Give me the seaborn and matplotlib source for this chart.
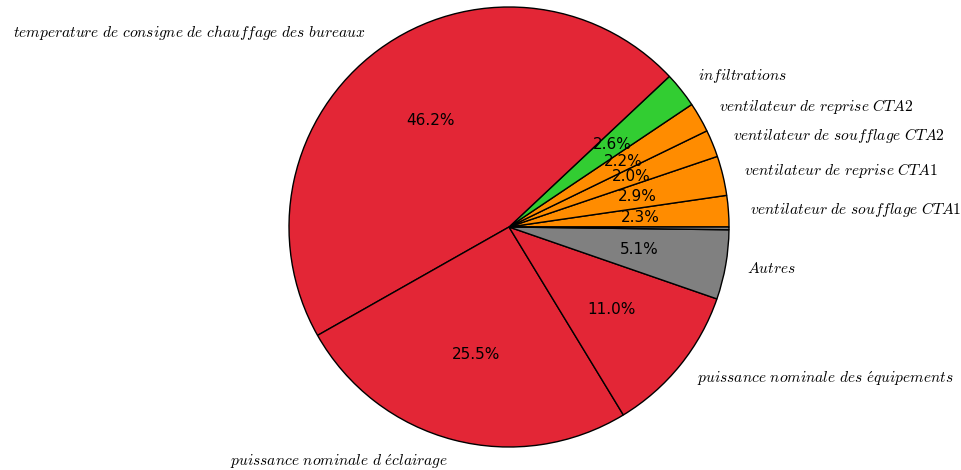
import matplotlib
matplotlib.use("Agg")
import matplotlib.pyplot as plt
import seaborn as sns

sns.set_style("white")
plt.rcParams["mathtext.fontset"] = "cm"

# Postes de consommation (ordre trigonométrique depuis 0°)
labels = [
    r"$ventilateur\ de\ soufflage\ CTA1$",
    r"$ventilateur\ de\ reprise\ CTA1$",
    r"$ventilateur\ de\ soufflage\ CTA2$",
    r"$ventilateur\ de\ reprise\ CTA2$",
    r"$infiltrations$",
    r"$temperature\ de\ consigne\ de\ chauffage\ des\ bureaux$",
    r"$puissance\ nominale\ d\ \acute{e}clairage$",
    r"$puissance\ nominale\ des\ \acute{e}quipements$",
    r"$Autres$",
    "",
]
parts = [2.3, 2.9, 2.0, 2.2, 2.6, 46.2, 25.5, 11.0, 5.1, 0.2]
colors = ["#ff8c00", "#ff8c00", "#ff8c00", "#ff8c00", "#32cd32",
          "#e32636", "#e32636", "#e32636", "#808080", "#808080"]


def pct(p):
    return f"{p:.1f}%" if p >= 1 else ""


fig = plt.figure(figsize=(9.62, 4.70), dpi=100)
ax = fig.add_axes([0, 0, 1, 1])
wedges, texts, autotexts = ax.pie(
    parts, labels=labels, colors=colors, autopct=pct,
    startangle=0, counterclock=True,
    wedgeprops={"edgecolor": "black", "linewidth": 1},
    textprops={"fontsize": 11, "color": "black"})
for t in texts:
    t.set_fontsize(11.15)

# centre du camembert (509, 227) px, rayon 220 px
ax.set_xlim(-509 / 220, (962 - 509) / 220)
ax.set_ylim(-(470 - 227) / 220, 227 / 220)
ax.set_aspect("auto")
ax.axis("off")

plt.savefig("out.png", dpi=100)
